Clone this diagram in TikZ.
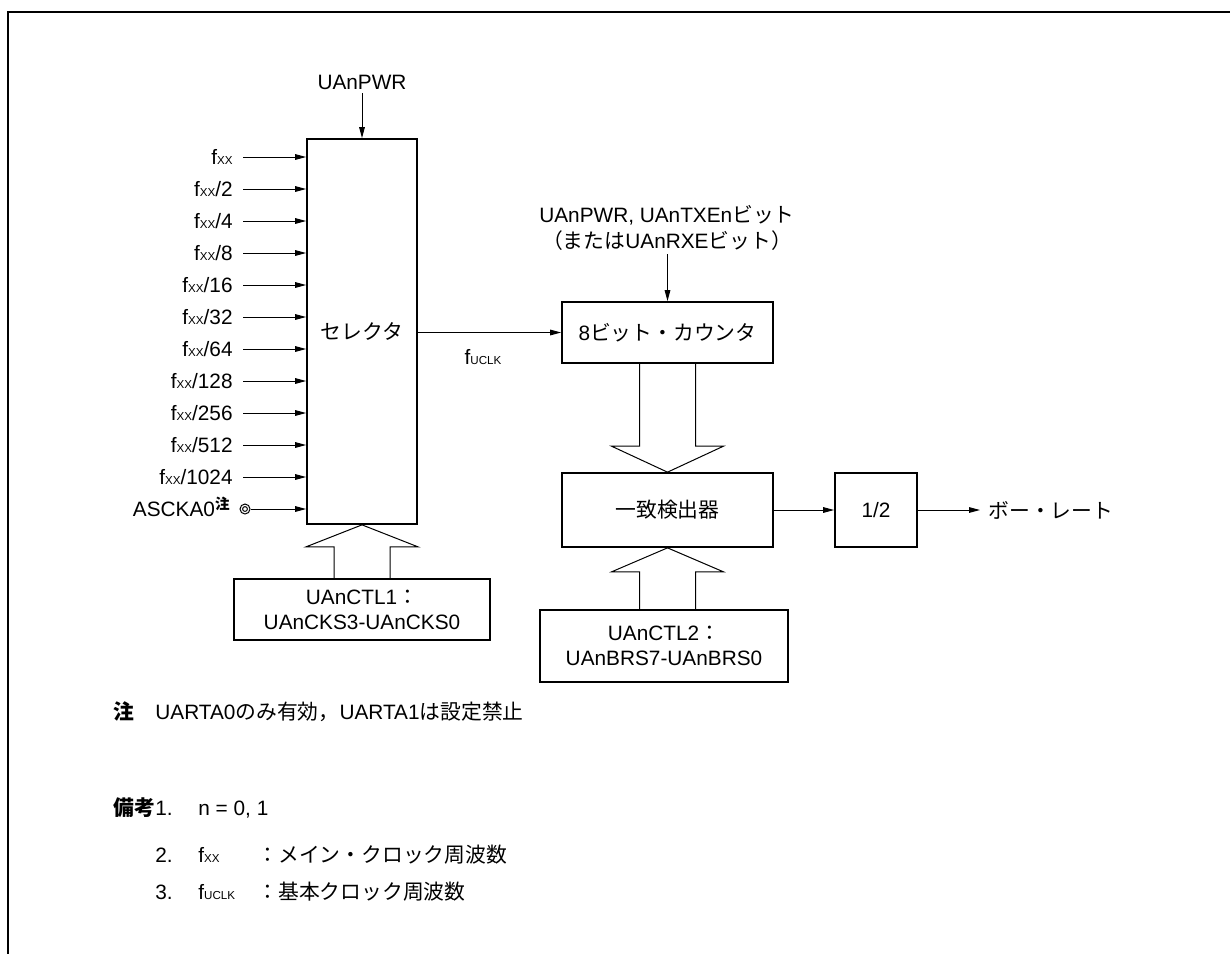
\documentclass[tikz,border=0pt]{standalone}
\usepackage{fontspec}
\setmainfont{Liberation Sans}
\newfontfamily\jp{Noto Sans CJK JP}
\usetikzlibrary{arrows.meta,calc}
\newcommand\xx{{\fontsize{5.8}{6}\selectfont XX}}
\newcommand\uclk{{\fontsize{5.8}{6}\selectfont UCLK}}
\tikzset{
  blk/.style={draw, line width=0.85pt, align=center},
  wire/.style={line width=0.5pt},
  sig/.style={wire, -{Triangle[length=5.5pt,width=2.8pt]}},
}
\begin{document}
\begin{tikzpicture}[x=0.5pt,y=-0.5pt,
    every node/.append style={inner sep=0pt, font=\fontsize{10.4}{12.5}\selectfont}]
  \useasboundingbox (0,0) rectangle (1230,954);
  \draw[line width=1pt] (1230,12) -- (8,12) -- (8,954);

  % blocks
  \node[blk, minimum width=55pt, minimum height=192.5pt] (sel) at (362,331.5) {{\jp セレクタ}};
  \node[blk, minimum width=105.5pt, minimum height=30.5pt] (cnt) at (667.5,332.5) {8{\jp ビット・カウンタ}};
  \node[blk, minimum width=105.5pt, minimum height=37pt] (det) at (667.5,510) {{\jp 一致検出器}};
  \node[blk, minimum width=41pt, minimum height=37pt] (half) at (876,510) {1/2};
  \node[blk, minimum width=128pt, minimum height=30.5pt] (ctla) at (362,609.5) {UAnCTL1{\jp ：}\\UAnCKS3-UAnCKS0};
  \node[blk, minimum width=124pt, minimum height=36pt] (ctlb) at (664,646) {UAnCTL2{\jp ：}\\UAnBRS7-UAnBRS0};

  % clock inputs
  \foreach \lab [count=\i from 0] in {f\xx, f\xx/2, f\xx/4, f\xx/8, f\xx/16, f\xx/32, f\xx/64, f\xx/128, f\xx/256, f\xx/512, f\xx/1024}{
    \node[anchor=base east] (l\i) at (233,{164.5+32*\i}) {\lab};
    \draw[sig] ([xshift=5pt,yshift=3.75pt]l\i.base east) -- ([yshift=3.75pt]l\i.base east -| sel.west);
  }
  \node[anchor=base east] (asck) at (231,516.5) {ASCKA0\textsuperscript{\jp\bfseries 注}};
  \node[circle, draw, wire, minimum size=5pt] (pin) at (245,509) {};
  \draw[wire] (pin.center) circle[radius=1.2pt];
  \draw[sig] (pin.east) -- (pin -| sel.west);

  % control inputs
  \node (pwr) at (362,82) {UAnPWR};
  \coordinate (pwrin) at ($(sel.north)+(0,-45)$);
  \draw[sig] (pwrin) -- (sel.north);
  \node[anchor=base] (ena) at (667,222.5) {UAnPWR, UAnTXEn{\jp ビット}};
  \node[anchor=base] (enb) at (667,248.5) {{\jp （または}UAnRXE{\jp ビット）}};
  \coordinate (enin) at ($(cnt.north)+(0,-47)$);
  \draw[sig] (enin) -- (cnt.north);

  % clock path
  \draw[sig] (sel.east |- cnt.west) -- (cnt.west);
  \node (fu) at (483,357) {f\uclk};
  \draw[sig] (det.east) -- (half.west);
  \node[anchor=west] (baud) at (988,510) {{\jp ボー・レート}};
  \draw[sig] (half.east) -- ([xshift=-4pt]baud.west);

  % wide arrows
  \draw[wire] ($(cnt.south)+(-28,0)$) -- ($(det.north)+(-28,-26)$) -- ($(det.north)+(-56,-26)$)
    -- (det.north) -- ($(det.north)+(56,-26)$) -- ($(det.north)+(28,-26)$) -- ($(cnt.south)+(28,0)$);
  \draw[wire] ($(det.south)+(-28,63)$) -- ($(det.south)+(-28,24)$) -- ($(det.south)+(-56,24)$)
    -- (det.south) -- ($(det.south)+(56,24)$) -- ($(det.south)+(28,24)$) -- ($(det.south)+(28,63)$);
  \draw[wire] ($(sel.south)+(-28,55)$) -- ($(sel.south)+(-28,22)$) -- ($(sel.south)+(-56,22)$)
    -- (sel.south) -- ($(sel.south)+(56,22)$) -- ($(sel.south)+(28,22)$) -- ($(sel.south)+(28,55)$);

  % notes
  \node[anchor=base west] (n0) at (113,719.5) {{\jp\bfseries 注}};
  \node[anchor=base west] (n1) at (155,719.5) {UARTA0{\jp のみ有効，}UARTA1{\jp は設定禁止}};
  \node[anchor=base west] (r0) at (113,815) {{\jp\bfseries 備考}};
  \node[anchor=base west] (r1) at (155,815) {1.};
  \node[anchor=base west] (r1v) at (198,815) {n = 0, 1};
  \node[anchor=base west] (r2) at (155,862) {2.};
  \node[anchor=base west] (r2v) at (198,862) {f\xx};
  \node[anchor=base west] (r2t) at (257,862) {{\jp ：メイン・クロック周波数}};
  \node[anchor=base west] (r3) at (155,899) {3.};
  \node[anchor=base west] (r3v) at (198,899) {f\uclk};
  \node[anchor=base west] (r3t) at (257,899) {{\jp ：基本クロック周波数}};
\end{tikzpicture}
\end{document}
